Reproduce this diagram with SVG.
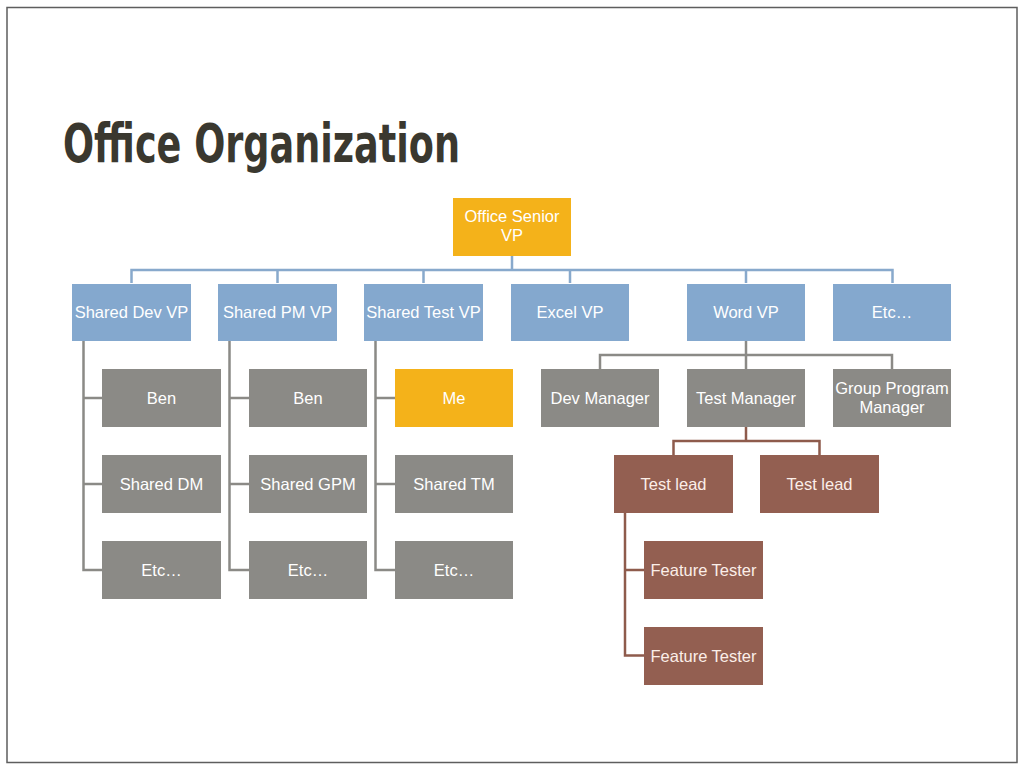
<svg xmlns="http://www.w3.org/2000/svg" width="1024" height="768" viewBox="0 0 1024 768">
<style>
.box{stroke:none}
.blue{fill:#84a8ce}
.gray{fill:#8b8a86}
.orange{fill:#f4b21a}
.brown{fill:#935f51}
.lbl{font-family:"Liberation Sans",Arial,sans-serif;font-size:16.5px;fill:#ffffff;text-anchor:middle}
.lblb{fill:#fbeee8}
.cb{fill:none;stroke:#88a9cc;stroke-width:2.5}
.cg{fill:none;stroke:#8b8a86;stroke-width:2.5}
.cr{fill:none;stroke:#8e5b4c;stroke-width:2.5}
</style>
<rect x="0" y="0" width="1024" height="768" fill="#ffffff"/>
<rect x="7" y="7.5" width="1010" height="755" fill="none" stroke="#5e5e5e" stroke-width="1.5"/>
<text x="63" y="162" font-family="'Liberation Sans Narrow','DejaVu Sans Condensed',sans-serif" font-size="53" font-weight="bold" fill="#3a382f" textLength="397" lengthAdjust="spacingAndGlyphs">Office Organization</text>

<g id="connectors">
<path class="cb" d="M512 256V270M131.5 283V270H892.5V283M277.5 270V283M423.5 270V283M570 270V283M746 270V283"/>
<path class="cg" d="M83.5 341V570H102M83.5 398H102M83.5 484H102"/>
<path class="cg" d="M229.5 341V570H249M229.5 398H249M229.5 484H249"/>
<path class="cg" d="M375.5 341V570H395M375.5 398H395M375.5 484H395"/>
<path class="cg" d="M746 341V369M600 369V355H892V369"/>
<path class="cr" d="M746 427V441M673.5 455V441H819.5V455"/>
<path class="cr" d="M625 513V655.5H644M625 570H644"/>
</g>

<g id="n-senior"><rect class="box orange" x="453" y="198" width="118" height="58"/><text class="lbl" x="512" y="222">Office Senior</text><text class="lbl" x="512" y="241">VP</text></g>

<g id="n-shareddev"><rect class="box blue" x="72" y="284" width="119" height="57"/><text class="lbl" x="131.5" y="318">Shared Dev VP</text></g>
<g id="n-sharedpm"><rect class="box blue" x="218" y="284" width="119" height="57"/><text class="lbl" x="277.5" y="318">Shared PM VP</text></g>
<g id="n-sharedtest"><rect class="box blue" x="364" y="284" width="119" height="57"/><text class="lbl" x="423.5" y="318">Shared Test VP</text></g>
<g id="n-excel"><rect class="box blue" x="511" y="284" width="118" height="57"/><text class="lbl" x="570" y="318">Excel VP</text></g>
<g id="n-word"><rect class="box blue" x="687" y="284" width="118" height="57"/><text class="lbl" x="746" y="318">Word VP</text></g>
<g id="n-etc1"><rect class="box blue" x="833" y="284" width="118" height="57"/><text class="lbl" x="892" y="318">Etc…</text></g>

<g id="n-ben1"><rect class="box gray" x="102" y="369" width="119" height="58"/><text class="lbl" x="161.5" y="404">Ben</text></g>
<g id="n-shareddm"><rect class="box gray" x="102" y="455" width="119" height="58"/><text class="lbl" x="161.5" y="490">Shared DM</text></g>
<g id="n-etc2"><rect class="box gray" x="102" y="541" width="119" height="58"/><text class="lbl" x="161.5" y="576">Etc…</text></g>

<g id="n-ben2"><rect class="box gray" x="249" y="369" width="118" height="58"/><text class="lbl" x="308" y="404">Ben</text></g>
<g id="n-sharedgpm"><rect class="box gray" x="249" y="455" width="118" height="58"/><text class="lbl" x="308" y="490">Shared GPM</text></g>
<g id="n-etc3"><rect class="box gray" x="249" y="541" width="118" height="58"/><text class="lbl" x="308" y="576">Etc…</text></g>

<g id="n-me"><rect class="box orange" x="395" y="369" width="118" height="58"/><text class="lbl" x="454" y="404">Me</text></g>
<g id="n-sharedtm"><rect class="box gray" x="395" y="455" width="118" height="58"/><text class="lbl" x="454" y="490">Shared TM</text></g>
<g id="n-etc4"><rect class="box gray" x="395" y="541" width="118" height="58"/><text class="lbl" x="454" y="576">Etc…</text></g>

<g id="n-devmgr"><rect class="box gray" x="541" y="369" width="118" height="58"/><text class="lbl" x="600" y="404">Dev Manager</text></g>
<g id="n-testmgr"><rect class="box gray" x="687" y="369" width="118" height="58"/><text class="lbl" x="746" y="404">Test Manager</text></g>
<g id="n-gpm"><rect class="box gray" x="833" y="369" width="118" height="58"/><text class="lbl" x="892" y="394">Group Program</text><text class="lbl" x="892" y="413">Manager</text></g>

<g id="n-testlead1"><rect class="box brown" x="614" y="455" width="119" height="58"/><text class="lbl lblb" x="673.5" y="490">Test lead</text></g>
<g id="n-testlead2"><rect class="box brown" x="760" y="455" width="119" height="58"/><text class="lbl lblb" x="819.5" y="490">Test lead</text></g>

<g id="n-ft1"><rect class="box brown" x="644" y="541" width="119" height="58"/><text class="lbl lblb" x="703.5" y="576">Feature Tester</text></g>
<g id="n-ft2"><rect class="box brown" x="644" y="627" width="119" height="58"/><text class="lbl lblb" x="703.5" y="662">Feature Tester</text></g>
</svg>
